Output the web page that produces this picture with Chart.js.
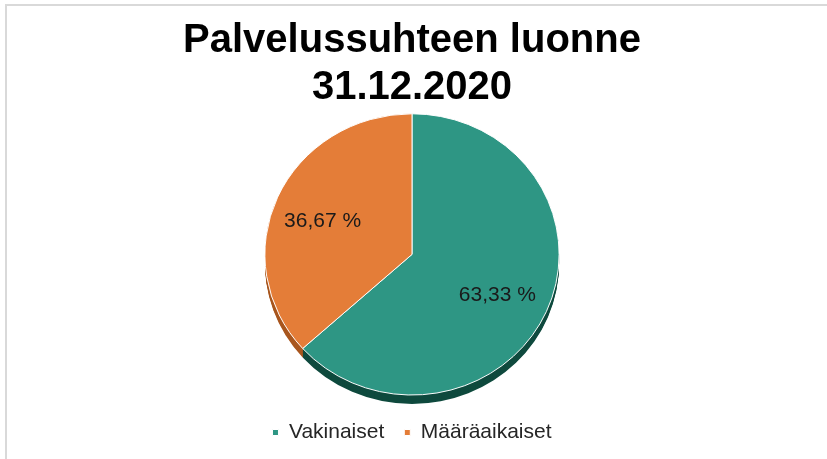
<!DOCTYPE html>
<html>
<head>
<meta charset="utf-8">
<script src="https://cdn.jsdelivr.net/npm/chart.js@4"></script>
<style>
    html, body { margin: 0; padding: 0; background: #fff; overflow: hidden; }
    #frame { position: absolute; left: 5px; top: 4px; width: 900px; height: 600px; border: 2px solid #d9d9d9; }
    #chart1 { position: absolute; left: 0; top: 0; }
</style>
</head>
<body>
<div id="frame"></div>
<canvas id="chart1" width="827" height="459"></canvas>
<script>
const categories = ['Vakinaiset', 'Määräaikaiset'];
const counts = [19, 11];
const titleLines = ['Palvelussuhteen luonne', '31.12.2020'];

const faceColors = ['#2e9684', '#e47d38'];
const sideColors = ['#0f4a3e', '#a8561e'];
const tilt = 0.956; // squash the pie a bit, like the 3D tilt in the original
const depth = 9;

// fake 3D: darker copies of the slices pushed down, then the face on top
const pie3d = {
    id: 'pie3d',
    beforeDatasetsDraw(chart) {
        const ctx = chart.ctx;
        const meta = chart.getDatasetMeta(0);
        const cx = meta.data[0].x, cy = meta.data[0].y;
        ctx.save();
        ctx.translate(cx, cy);
        ctx.scale(1, tilt);
        ctx.translate(-cx, -cy);
        for (let d = depth; d > 0; d--) {
            meta.data.forEach((arc, i) => {
                ctx.beginPath();
                ctx.moveTo(arc.x, arc.y + d / tilt);
                ctx.arc(arc.x, arc.y + d / tilt, arc.outerRadius, arc.startAngle, arc.endAngle);
                ctx.closePath();
                ctx.fillStyle = sideColors[i];
                ctx.fill();
            });
        }
    },
    afterDatasetsDraw(chart) {
        const ctx = chart.ctx;
        ctx.restore();
        const meta = chart.getDatasetMeta(0);
        const total = counts.reduce((a, b) => a + b, 0);
        ctx.save();
        ctx.font = '21px "Liberation Sans", Arial, sans-serif';
        ctx.fillStyle = '#1a1a1a';
        ctx.textAlign = 'center';
        ctx.textBaseline = 'middle';
        meta.data.forEach((arc, i) => {
            const mid = (arc.startAngle + arc.endAngle) / 2;
            const r = arc.outerRadius * 0.65;
            const x = arc.x + Math.cos(mid) * r - 2;
            const y = arc.y + Math.sin(mid) * r * tilt + 4;
            const pct = (counts[i] / total * 100).toFixed(2).replace('.', ',') + ' %';
            ctx.fillText(pct, x, y);
        });
        ctx.restore();
    }
};

const config1 = {
    type: 'pie',
    data: {
        labels: categories,
        datasets: [{
            data: counts,
            backgroundColor: faceColors,
            borderColor: '#ffffff',
            borderWidth: 1,
        }]
    },
    options: {
        responsive: false,
        animation: false,
        events: [],
        layout: {
            padding: { top: 14, bottom: 6, left: 0, right: 3 },
        },
        plugins: {
            title: {
                display: true,
                text: titleLines,
                color: '#000000',
                font: { family: '"Liberation Sans", Arial, sans-serif', size: 40, weight: 'bold', lineHeight: 1.16 },
                padding: { top: 4, bottom: -4 },
            },
            legend: {
                display: true,
                position: 'bottom',
                labels: {
                    boxWidth: 6,
                    boxHeight: 6,
                    padding: 20,
                    color: '#262626',
                    font: { family: '"Liberation Sans", Arial, sans-serif', size: 21 },
                },
            },
            tooltip: { enabled: false },
        },
    },
    plugins: [pie3d],
};

const ctx1 = document.getElementById('chart1').getContext('2d');
const chart1 = new Chart(ctx1, config1);
</script>
</body>
</html>
